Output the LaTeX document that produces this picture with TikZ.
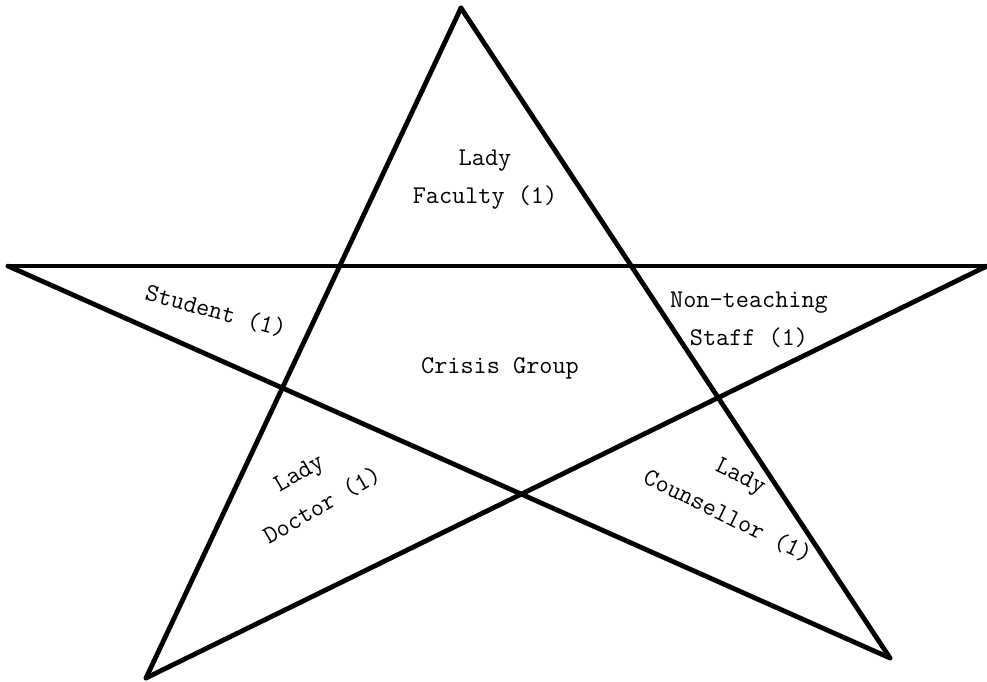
\documentclass[tikz,border=0pt]{standalone}
\begin{document}
\begin{tikzpicture}[x=1pt,y=-1pt,
  edge/.style={line width=4.8pt,line cap=round,line join=round},
  lbl/.style={font=\ttfamily\fontsize{25.5}{38}\selectfont,align=center,inner sep=0pt}]
\useasboundingbox (0,0) rectangle (987,682);
\coordinate (T) at (461,8);
\coordinate (L) at (8,266);
\coordinate (R) at (987,266);
\coordinate (BL) at (146,678);
\coordinate (BR) at (890,658);
\draw[edge] (T) -- (BL);
\draw[edge] (T) -- (BR);
\draw[edge] (L) -- (R);
\draw[edge] (L) -- (BR);
\draw[edge] (R) -- (BL);
\node[lbl] (fac) at (485,180) {Lady\\Faculty (1)};
\node[lbl,rotate=-15] (stu) at (216,311) {Student (1)};
\node[lbl] (nts) at (749,320) {Non-teaching\\Staff (1)};
\node[lbl] (cg) at (500,368) {Crisis Group};
\node[lbl,rotate=30] (doc1) at (300,475) {Lady};
\node[lbl,rotate=30] (doc2) at (322,505) {Doctor (1)};
\node[lbl,rotate=-26] (cou1) at (740,478) {Lady};
\node[lbl,rotate=-26] (cou2) at (728,516) {Counsellor (1)};
\end{tikzpicture}
\end{document}
